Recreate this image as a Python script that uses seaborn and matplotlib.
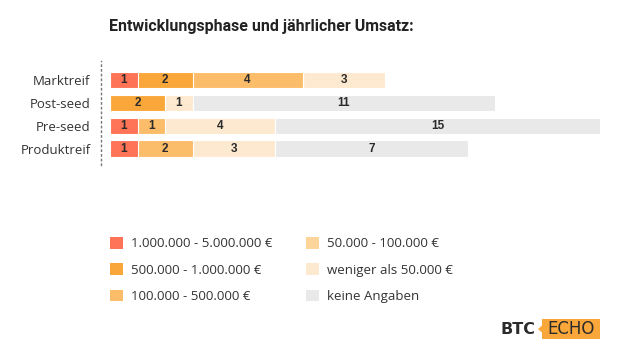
import matplotlib
matplotlib.use("Agg")
import matplotlib.pyplot as plt
from matplotlib.patches import Patch, Rectangle, Polygon
import seaborn as sns
import pandas as pd
import numpy as np

# ---- data ----
phases = ["Marktreif", "Post-seed", "Pre-seed", "Produktreif"]
categories = ["1.000.000 - 5.000.000 €", "500.000 - 1.000.000 €", "100.000 - 500.000 €",
              "50.000 - 100.000 €", "weniger als 50.000 €", "keine Angaben"]
v_1m_5m = [1, 0, 1, 1]
v_500k_1m = [2, 2, 0, 0]
v_100k_500k = [4, 0, 1, 2]
v_50k_100k = [0, 0, 0, 0]
v_lt_50k = [3, 1, 4, 3]
v_keine = [0, 11, 15, 7]
series = [v_1m_5m, v_500k_1m, v_100k_500k, v_50k_100k, v_lt_50k, v_keine]
colors = ["#FF7456", "#F9A73A", "#FBBD69", "#FDD499", "#FDE9CF", "#E9E9E9"]
title = "Entwicklungsphase und jährlicher Umsatz:"

sns.set_theme(style="white")
plt.rcParams["font.family"] = ["Open Sans", "DejaVu Sans"]

W, H = 621, 361
fig = plt.figure(figsize=(W / 100, H / 100), dpi=100)
ax = fig.add_axes([110 / W, (H - 165) / H, 490 / W, 104 / H])

vals = np.array(series)  # shape (6, 4)
cum = np.cumsum(vals, axis=0)
df = pd.DataFrame({"phase": phases})
for k, c in enumerate(categories):
    df[f"cum{k}"] = cum[k]

for k in range(len(categories) - 1, -1, -1):
    sns.barplot(data=df, x=f"cum{k}", y="phase", order=phases, orient="h",
                color=colors[k], saturation=1, width=0.7, ax=ax,
                edgecolor="white", linewidth=0.8)

xmax = 490 / 27.5
ax.set_xlim(0, xmax)
ax.set_ylim(3.72, -0.82)

# value labels
for i in range(len(phases)):
    start = 0
    for k in range(len(categories)):
        v = vals[k, i]
        if v > 0:
            end = start + v
            cx = (start + min(end, xmax)) / 2
            ax.text(cx, i, str(v), ha="center", va="center", fontsize=8.5,
                    fontweight="bold", color="#2b2b2b", family=["Liberation Sans", "DejaVu Sans"])
        start += v

ax.set_xlabel("")
ax.set_ylabel("")
ax.set_xticks([])
for s in ["top", "right", "bottom"]:
    ax.spines[s].set_visible(False)
ax.spines["left"].set_position(("outward", 6.5))
ax.spines["left"].set_linestyle((0, (1, 2.4)))
ax.spines["left"].set_color("#777777")
ax.spines["left"].set_linewidth(1.0)
ax.tick_params(axis="y", length=0, pad=7.5, labelsize=9.5, labelcolor="#333333")

# title
fig.text(261 / W, (H - 27) / H, title, ha="center", va="center", fontsize=11.5,
         fontweight="bold", color="#222222", family=["Roboto", "DejaVu Sans"])

# legends
handles = [Patch(facecolor=c, edgecolor="none", label=l) for c, l in zip(colors, categories)]
common = dict(frameon=False, fontsize=9.5, handlelength=0.98, handleheight=0.98,
              handletextpad=0.6, labelspacing=0.98, borderpad=0, borderaxespad=0,
              loc="upper left", labelcolor="#333333")
leg1 = fig.legend(handles=handles[:3], bbox_to_anchor=(110 / W, (H - 237) / H), **common)
leg2 = fig.legend(handles=handles[3:], bbox_to_anchor=(306 / W, (H - 237) / H), **common)

# logo
fig.text(501 / W, (H - 329) / H, "BTC", ha="left", va="center", fontsize=11.5,
         fontweight="bold", color="#2b2b2b", family=["DejaVu Sans"])
fig.add_artist(Rectangle((542 / W, (H - 339) / H), 58 / W, 20 / H,
                         transform=fig.transFigure, facecolor="#F9A73A", edgecolor="none"))
fig.add_artist(Polygon([(542 / W, (H - 325.5) / H), (538 / W, (H - 329) / H), (542 / W, (H - 332.5) / H)],
                       closed=True, transform=fig.transFigure, facecolor="#F9A73A", edgecolor="none"))
fig.text(571 / W, (H - 329) / H, "ECHO", ha="center", va="center", fontsize=12,
         color="#2b2b2b", family=["DejaVu Sans"])

fig.savefig("out.png", dpi=100, facecolor="white")
